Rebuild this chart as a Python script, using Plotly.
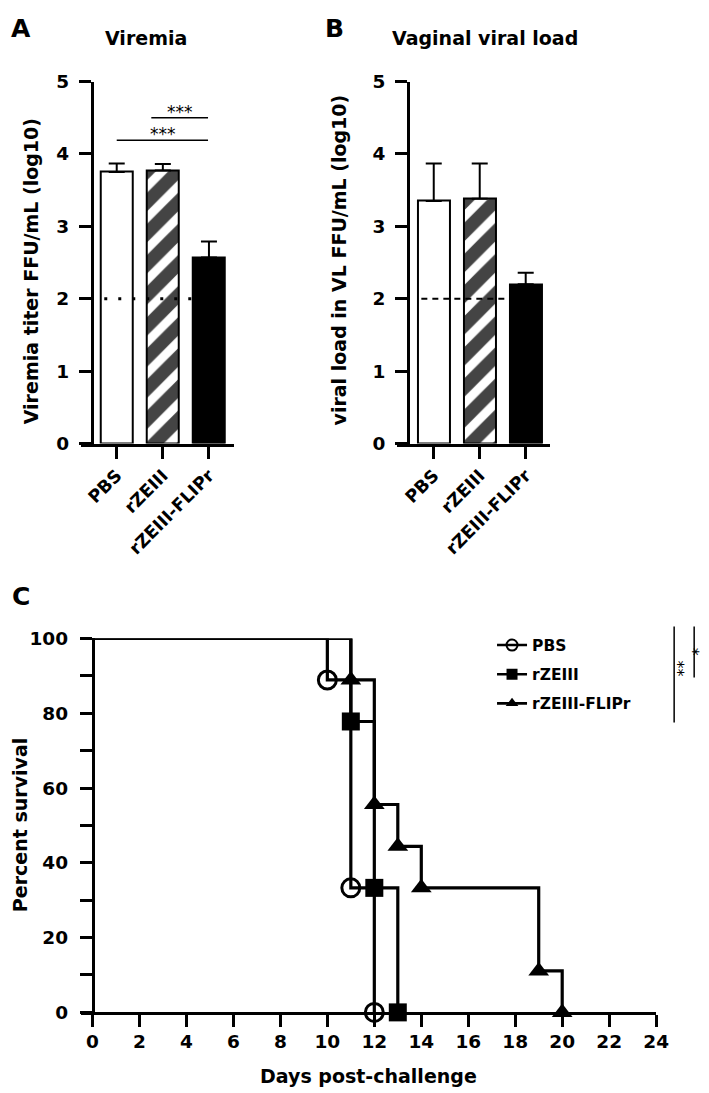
import plotly.graph_objects as go

# bar panels (A, B)
groups = ["PBS", "rZEIII", "rZEIII-FLIPr"]
viremia_mean = [3.75, 3.77, 2.57]
viremia_sem = [0.12, 0.09, 0.22]
vaginal_mean = [3.35, 3.38, 2.20]
vaginal_sem = [0.52, 0.49, 0.16]
detection_limit = 2
viremia_stats = [("PBS", "rZEIII-FLIPr", 4.19, "***"), ("rZEIII", "rZEIII-FLIPr", 4.50, "***")]

# survival panel (C)
days_pbs = [0, 10, 11, 12]
surv_pbs = [100, 88.9, 33.3, 0]
days_rzeiii = [0, 11, 12, 13]
surv_rzeiii = [100, 77.8, 33.3, 0]
days_flipr = [0, 11, 12, 13, 14, 19, 20]
surv_flipr = [100, 88.9, 55.6, 44.4, 33.3, 11.1, 0]

W, H = 709, 1093
FONT = "DejaVu Sans"
# the page shows up slightly shrunk and shifted, so target positions are
# given in screen pixels and mapped back here
OFFX, OFFY, S = 7.3, 19.4, 0.981


def px(x):
    return (x - OFFX) / S / W


def py(y):
    return 1 - (y - OFFY) / S / H


def bfont(size):
    return dict(family=FONT, size=size, color="black", weight="bold")


fig = go.Figure()


def bar_panel(xa, ya, means, sems, dash, dash_w):
    idx = list(range(len(groups)))
    fig.add_trace(go.Bar(
        x=idx, y=means, width=0.7, xaxis=xa, yaxis=ya, showlegend=False,
        marker=dict(color=["white", "white", "black"],
                    line=dict(color="black", width=2),
                    pattern=dict(shape=["", "/", ""], fgcolor="black",
                                 fgopacity=1, size=22, solidity=0.6)),
        error_y=dict(type="data", symmetric=False, array=sems,
                     arrayminus=[0] * len(sems), color="black",
                     thickness=2, width=8),
    ))
    fig.add_trace(go.Scatter(
        x=[-0.27, idx[-1] + 0.36], y=[detection_limit] * 2, mode="lines",
        xaxis=xa, yaxis=ya, showlegend=False, hoverinfo="skip",
        line=dict(color="black", width=dash_w, dash=dash),
    ))


bar_panel("x", "y", viremia_mean, viremia_sem, "3px,11px", 3)
bar_panel("x2", "y2", vaginal_mean, vaginal_sem, "6px,5px", 2)

# significance brackets on viremia
for g1, g2, level, label in viremia_stats:
    i1, i2 = groups.index(g1), groups.index(g2)
    start = i1 if i1 == 0 else i1 - 0.25
    fig.add_trace(go.Scatter(
        x=[start, i2 - 0.02], y=[level, level], mode="lines",
        xaxis="x", yaxis="y", showlegend=False, hoverinfo="skip",
        line=dict(color="black", width=1.5),
    ))
    fig.add_annotation(x=(start + i2) / 2, y=level, xref="x", yref="y",
                       text=label, showarrow=False, yanchor="bottom", yshift=-6,
                       font=dict(family=FONT, size=17, color="black"))

# survival curves
curves = [
    ("PBS", days_pbs, surv_pbs, "circle-open", 18),
    ("rZEIII", days_rzeiii, surv_rzeiii, "square", 18),
    ("rZEIII-FLIPr", days_flipr, surv_flipr, "triangle-up", 18),
]
for k, (name, d, s, sym, size) in enumerate(curves):
    fig.add_trace(go.Scatter(
        x=d, y=s, mode="lines", line_shape="hv", xaxis="x3", yaxis="y3",
        line=dict(color="black", width=3.2), showlegend=False,
        cliponaxis=False,
    ))
    fig.add_trace(go.Scatter(
        x=d[1:], y=s[1:], mode="markers", xaxis="x3", yaxis="y3",
        marker=dict(symbol=sym, size=size, color="black",
                    line=dict(color="black", width=3 if "open" in sym else 0)),
        showlegend=False, cliponaxis=False,
    ))
    fig.add_trace(go.Scatter(
        x=[None], y=[None], mode="lines+markers", name=name,
        xaxis="x3", yaxis="y3", legendgroup=str(k),
        line=dict(color="black", width=2.6),
        marker=dict(symbol=sym, size=11, color="black",
                    line=dict(color="black", width=2 if "open" in sym else 0)),
    ))

axis_common = dict(showline=True, linecolor="black", linewidth=3,
                   ticks="outside", ticklen=12, tickwidth=3, tickcolor="black",
                   showgrid=False, zeroline=False, tickfont=bfont(18.5))

fig.update_layout(
    width=W, height=H,
    margin=dict(l=0, r=0, t=0, b=0),
    paper_bgcolor="white", plot_bgcolor="white",
    bargap=0,
    xaxis=dict(axis_common, domain=[px(80), px(233)], range=[-0.78, 2.54],
               anchor="y", tickvals=[0, 1, 2], ticktext=groups,
               tickangle=-45, tickfont=bfont(17.5)),
    yaxis=dict(axis_common, domain=[py(444), py(82)], range=[0, 5],
               anchor="free", position=px(91), dtick=1, ticklabelstandoff=6),
    xaxis2=dict(axis_common, domain=[px(396), px(549)], range=[-0.8, 2.53],
                anchor="y2", tickvals=[0, 1, 2], ticktext=groups,
                tickangle=-45, tickfont=bfont(17.5)),
    yaxis2=dict(axis_common, domain=[py(444), py(82)], range=[0, 5],
                anchor="free", position=px(407), dtick=1, ticklabelstandoff=6),
    xaxis3=dict(axis_common, domain=[px(80), px(655)], range=[-0.5, 24],
                anchor="y3", tick0=0, dtick=2, ticklabelstandoff=-2),
    yaxis3=dict(axis_common, domain=[py(1013), py(639)], range=[0, 100],
                anchor="free", position=px(92), dtick=20, ticklabelstandoff=8,
                minor=dict(dtick=10, ticks="outside", ticklen=12, tickwidth=3,
                           tickcolor="black")),
    legend=dict(x=px(491), y=py(629), xanchor="left", yanchor="top",
                font=bfont(15.5), bgcolor="rgba(0,0,0,0)", tracegroupgap=6,
                itemwidth=30),
)

# panel letters, titles, axis titles
texts = [
    ("A", 20, 29, 25, 0), ("B", 334, 29, 25, 0), ("C", 20, 597, 25, 0),
    ("Viremia", 145, 38, 19, 0), ("Vaginal viral load", 484, 38, 19, 0),
    ("Viremia titer FFU/mL (log10)", 30, 272, 19, -90),
    ("viral load in VL FFU/mL (log10)", 338, 260, 19, -90),
    ("Percent survival", 20, 826, 19, -90),
    ("Days post-challenge", 368, 1077, 19, 0),
]
for t, x, y, size, ang in texts:
    fig.add_annotation(x=px(x), y=py(y), xref="paper", yref="paper", text=t,
                       showarrow=False, xanchor="center", yanchor="middle",
                       textangle=ang, font=bfont(size))

# significance lines for the survival comparison
for x, y0, y1, label, lx, ly in [(673, 627, 723, "**", 682, 669),
                                 (693, 627, 678, "*", 697, 652)]:
    fig.add_shape(type="line", xref="paper", yref="paper",
                  x0=px(x), x1=px(x), y0=py(y0), y1=py(y1),
                  line=dict(color="black", width=1.5))
    fig.add_annotation(x=px(lx), y=py(ly), xref="paper", yref="paper",
                       text=label, showarrow=False, textangle=-90,
                       xanchor="center", yanchor="middle",
                       font=dict(family=FONT, size=16, color="black"))

fig.write_html("out.html")
